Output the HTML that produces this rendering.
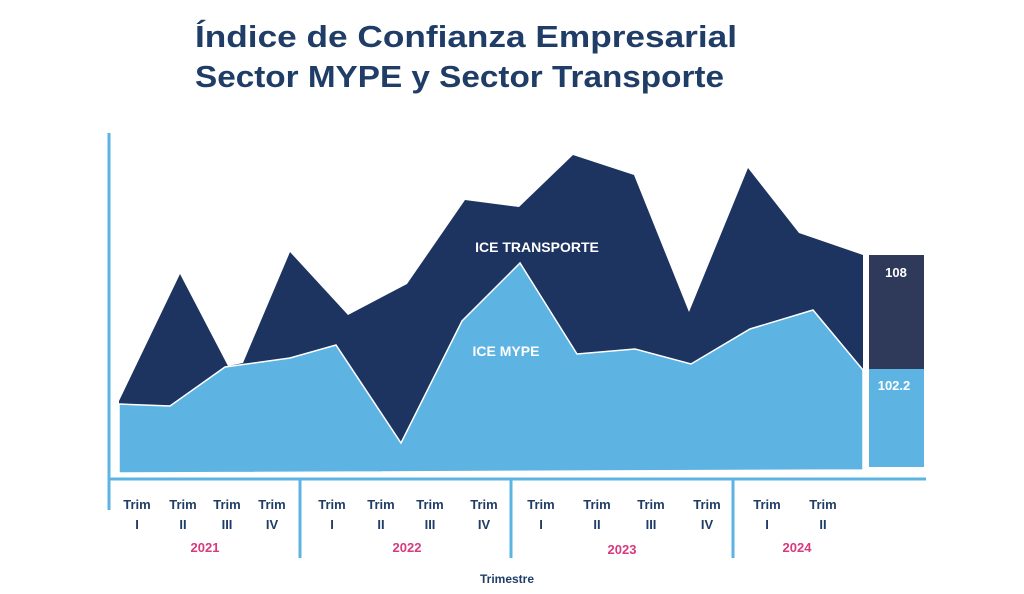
<!DOCTYPE html>
<html><head><meta charset="utf-8"><style>
body{margin:0;background:#fff;}
svg{display:block;font-family:"Liberation Sans","DejaVu Sans",sans-serif;}
</style></head><body>
<svg width="1024" height="594" viewBox="0 0 1024 594">
<text x="195" y="47" font-size="31" font-weight="bold" fill="#1f3d66" textLength="542" lengthAdjust="spacingAndGlyphs">Índice de Confianza Empresarial</text>
<text x="195" y="87" font-size="31" font-weight="bold" fill="#1f3d66" textLength="529" lengthAdjust="spacingAndGlyphs">Sector MYPE y Sector Transporte</text>
<polygon fill="#1d3460" points="119,401 180,274 228,366 243,363 290,252 348,315 407,284 465,200 519,207 573,155 634,175 689,312 748,168 799,233 863,255 863,470 119,473"/>
<polygon fill="#5db4e3" stroke="#fff" stroke-width="1.5" points="119,404 170,406 225,367 290,358 336,345 401,443 462,321 520,263 577,354 635,349 691,364 750,329 813,310 863,370 863,470 119,473"/>
<rect x="869" y="255" width="55" height="114" fill="#2f3a5a"/>
<rect x="869" y="369" width="55" height="98" fill="#5db4e3"/>
<text x="896" y="277" font-size="13" font-weight="bold" fill="#fff" text-anchor="middle">108</text>
<text x="894" y="390" font-size="13" font-weight="bold" fill="#fff" text-anchor="middle">102.2</text>
<text x="537" y="252" font-size="14" font-weight="bold" fill="#fff" text-anchor="middle">ICE TRANSPORTE</text>
<text x="506" y="356" font-size="14" font-weight="bold" fill="#fff" text-anchor="middle">ICE MYPE</text>
<g stroke="#5db4e3" stroke-width="3" fill="none">
<line x1="109" y1="133" x2="109" y2="510"/>
<line x1="109" y1="479" x2="926" y2="479"/>
<line x1="300" y1="479" x2="300" y2="558"/>
<line x1="511" y1="479" x2="511" y2="558"/>
<line x1="733" y1="479" x2="733" y2="558"/>
</g>
<g font-size="13" font-weight="bold" fill="#1f3d66" text-anchor="middle">
<text x="137" y="509">Trim</text><text x="137" y="529">I</text>
<text x="183" y="509">Trim</text><text x="183" y="529">II</text>
<text x="227" y="509">Trim</text><text x="227" y="529">III</text>
<text x="272" y="509">Trim</text><text x="272" y="529">IV</text>
<text x="332" y="509">Trim</text><text x="332" y="529">I</text>
<text x="381" y="509">Trim</text><text x="381" y="529">II</text>
<text x="430" y="509">Trim</text><text x="430" y="529">III</text>
<text x="484" y="509">Trim</text><text x="484" y="529">IV</text>
<text x="541" y="509">Trim</text><text x="541" y="529">I</text>
<text x="597" y="509">Trim</text><text x="597" y="529">II</text>
<text x="651" y="509">Trim</text><text x="651" y="529">III</text>
<text x="707" y="509">Trim</text><text x="707" y="529">IV</text>
<text x="767" y="509">Trim</text><text x="767" y="529">I</text>
<text x="823" y="509">Trim</text><text x="823" y="529">II</text>
<text x="507" y="583" font-size="12">Trimestre</text>
</g>
<g font-size="13" font-weight="bold" fill="#d63a7f" text-anchor="middle">
<text x="205" y="552">2021</text><text x="407" y="552">2022</text><text x="622" y="554">2023</text><text x="797" y="552">2024</text>
</g>
</svg>
</body></html>
